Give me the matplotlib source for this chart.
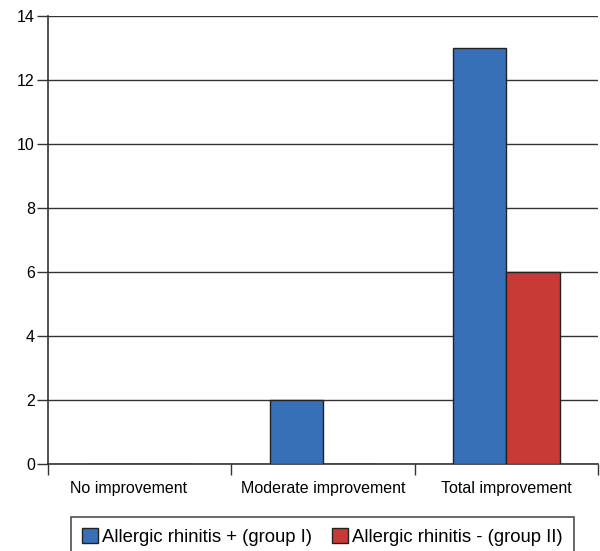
import matplotlib
matplotlib.use('Agg')
import matplotlib.pyplot as plt
import matplotlib.transforms as mtransforms
import numpy as np

plt.rcParams['font.family'] = ['Liberation Sans', 'DejaVu Sans']

# categories and values
labels = ['No improvement', 'Moderate improvement', 'Total improvement']
group1 = [0, 2, 13]
group2 = [0, 0, 6]
names = ['Allergic rhinitis + (group I)', 'Allergic rhinitis - (group II)']

x = np.arange(len(labels))
width = 0.29

fig = plt.figure(figsize=(6, 5.51), dpi=100)
ax = fig.add_axes([0.08, 0.158, 0.9167, 0.813])

ax.bar(x - width / 2, group1, width, color='#3870b8', edgecolor='#222222',
       linewidth=1, label=names[0], zorder=3)
ax.bar(x + width / 2, group2, width, color='#c83a35', edgecolor='#222222',
       linewidth=1, label=names[1], zorder=3)

ax.set_ylim(0, 14)
ax.set_yticks(np.arange(0, 15, 2))
ax.set_xlim(-0.5, 2.5)
# ticks at category boundaries, labels in the middle
ax.set_xticks([-0.5, 0.5, 1.5, 2.5])
ax.set_xticklabels([])
ax.set_xticks(x, minor=True)
ax.set_xticklabels(labels, minor=True, fontsize=11.5)
ax.tick_params(axis='x', which='minor', length=0, pad=12)
ax.tick_params(axis='x', which='major', length=8, width=1, color='#333333')
ax.tick_params(axis='y', length=8, width=1, color='#333333', labelsize=11.5, pad=1.5)

# first label sits a little left of centre in the original
lbl = ax.get_xticklabels(minor=True)[0]
lbl.set_transform(lbl.get_transform() + mtransforms.ScaledTranslation(-0.11, 0, fig.dpi_scale_trans))

ax.grid(axis='y', color='#333333', linewidth=1, zorder=0)
for s in ['top', 'right']:
    ax.spines[s].set_visible(False)
for s in ['left', 'bottom']:
    ax.spines[s].set_color('#333333')
    ax.spines[s].set_linewidth(1.2)

leg = fig.legend(loc='upper center', bbox_to_anchor=(0.5375, 1 - 517 / 551), ncol=2,
                 fontsize=13.3, frameon=True, fancybox=False, edgecolor='#222222',
                 handlelength=0.87, handleheight=0.87, handletextpad=0.2,
                 columnspacing=1.1, borderpad=0.6, borderaxespad=0)
leg.get_frame().set_linewidth(1.2)

fig.savefig('out.png', dpi=100)
